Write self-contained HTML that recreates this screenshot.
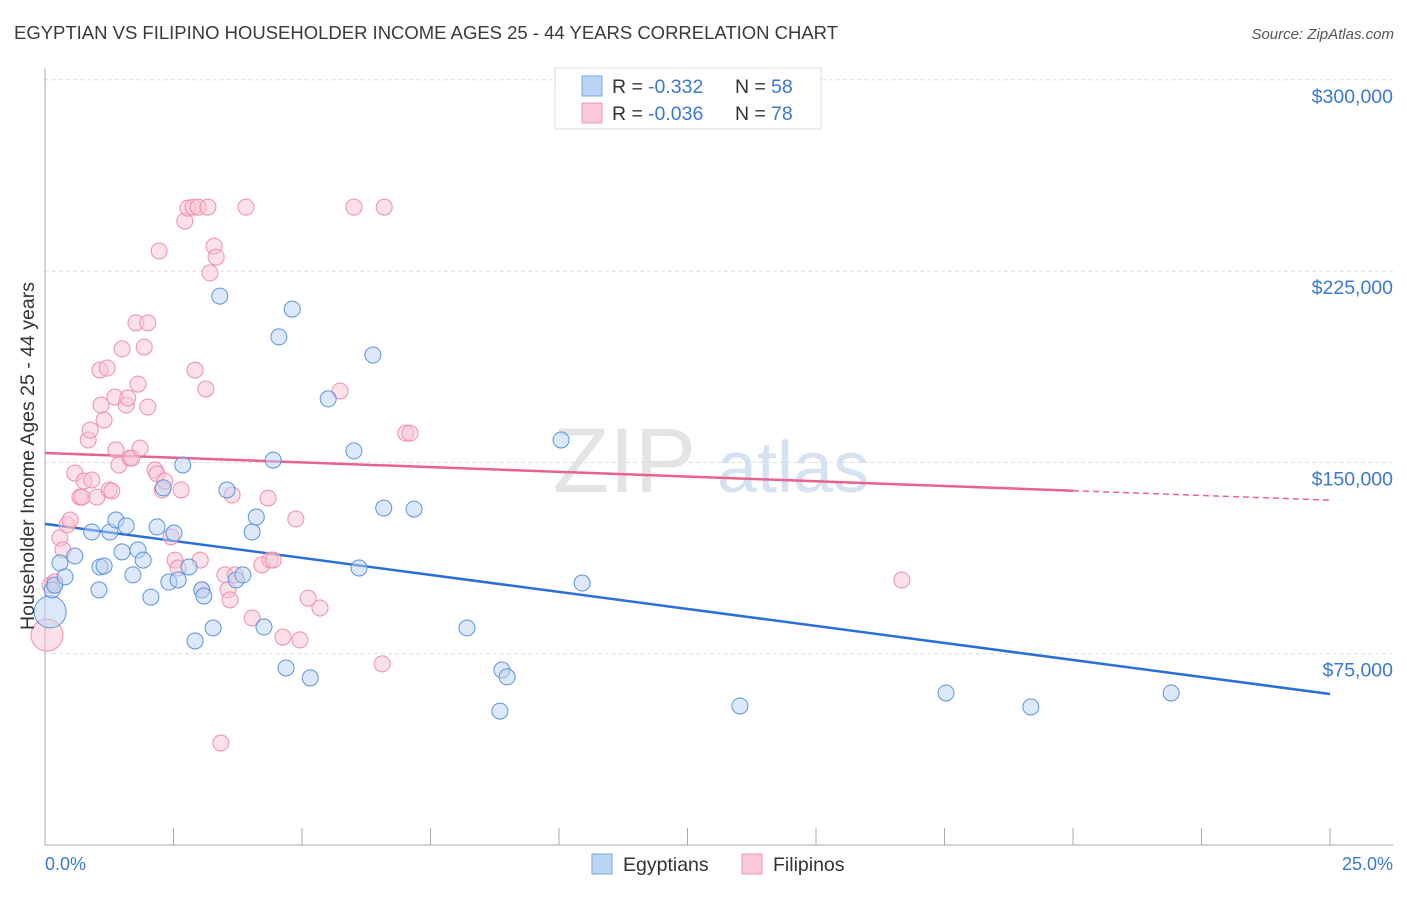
<!DOCTYPE html>
<html><head><meta charset="utf-8"><style>
body{margin:0;background:#fff;font-family:"Liberation Sans",sans-serif}
svg text{font-family:"Liberation Sans",sans-serif}
</style></head><body>
<svg id="chart" width="1406" height="892" xmlns="http://www.w3.org/2000/svg">
<text x="14" y="39" font-size="18.5" fill="#3a3a3a" textLength="824" lengthAdjust="spacingAndGlyphs">EGYPTIAN VS FILIPINO HOUSEHOLDER INCOME AGES 25 - 44 YEARS CORRELATION CHART</text>
<text x="1394" y="39" font-size="15" fill="#555" text-anchor="end" font-style="italic">Source: ZipAtlas.com</text>
<g>
<text x="553" y="492" font-size="92" fill="#e4e4e4" font-family="Liberation Serif,serif">ZIP</text>
<text x="717" y="492" font-size="72" fill="#d5e2f2">atlas</text>
</g>
<g id="grid"></g>
<g id="axes"></g>
<g id="trends"></g>
<g id="points"></g>
<text transform="translate(34,456) rotate(-90)" font-size="19.5" fill="#333" text-anchor="middle">Householder Income Ages 25 - 44 years</text>
<text x="45" y="870" font-size="18" fill="#3a78d4">0.0%</text>
<text x="1393" y="870" font-size="18" fill="#3a78d4" text-anchor="end">25.0%</text>
<g>
<rect x="555" y="68" width="266" height="61" fill="#fff" stroke="#ddd"/>
<rect x="582" y="76" width="20" height="20" fill="#bcd4f5" stroke="#7aa7e6"/>
<rect x="582" y="103" width="20" height="20" fill="#fbc8d6" stroke="#f09ab4"/>
<text x="612" y="93" font-size="19.5" fill="#333">R =</text>
<text x="648" y="93" font-size="19.5" fill="#3a78d4">-0.332</text>
<text x="735" y="93" font-size="19.5" fill="#333">N =</text>
<text x="771" y="93" font-size="19.5" fill="#3a78d4">58</text>
<text x="612" y="120" font-size="19.5" fill="#333">R =</text>
<text x="648" y="120" font-size="19.5" fill="#3a78d4">-0.036</text>
<text x="735" y="120" font-size="19.5" fill="#333">N =</text>
<text x="771" y="120" font-size="19.5" fill="#3a78d4">78</text>
</g>
<g>
<rect x="592" y="854" width="20" height="20" fill="#bcd4f5" stroke="#7aa7e6"/>
<text x="623" y="871" font-size="19.5" fill="#333">Egyptians</text>
<rect x="742" y="854" width="20" height="20" fill="#fbc8d6" stroke="#f09ab4"/>
<text x="773" y="871" font-size="19.5" fill="#333">Filipinos</text>
</g>
</svg>
<script>
const yTicks=[75000,150000,225000,300000];
const yTickLabels=["$75,000","$150,000","$225,000","$300,000"];
const egyX=[0.10,0.14,0.19,0.29,0.39,0.58,0.91,1.07,1.05,1.15,1.26,1.38,1.50,1.58,1.71,1.81,1.91,2.06,2.18,2.30,2.41,2.51,2.59,2.68,2.80,2.92,3.05,3.09,3.27,3.40,3.54,3.72,3.85,4.03,4.11,4.26,4.44,4.55,4.69,4.81,5.16,5.51,6.01,6.11,6.38,6.59,7.18,8.21,8.85,8.89,8.99,10.04,10.45,13.52,17.53,19.18,21.91];
const egyY=[91.4,100.0,101.9,110.6,105.1,113.3,122.7,109.0,100.0,109.4,122.7,127.4,114.9,125.1,105.9,115.7,111.7,97.2,124.7,140.0,103.1,122.3,103.9,149.0,109.0,80.0,100.0,97.6,85.1,215.2,139.2,103.9,105.9,122.7,128.6,85.5,150.9,199.2,69.4,210.1,65.5,174.9,154.5,108.6,192.1,132.1,131.7,85.1,52.5,68.6,65.9,158.8,102.7,54.5,59.6,54.1,59.6];
const filX=[0.04,0.10,0.19,0.29,0.35,0.43,0.49,0.58,0.68,0.72,0.76,0.84,0.88,0.91,1.01,1.07,1.09,1.15,1.21,1.25,1.30,1.36,1.38,1.44,1.50,1.58,1.61,1.65,1.69,1.77,1.81,1.85,1.93,2.00,2.00,2.14,2.18,2.22,2.28,2.33,2.45,2.53,2.59,2.65,2.72,2.78,2.88,2.92,2.98,3.02,3.05,3.13,3.17,3.21,3.29,3.33,3.42,3.50,3.56,3.60,3.64,3.70,3.91,4.03,4.22,4.34,4.38,4.44,4.63,4.88,4.96,5.12,5.35,5.74,6.01,6.56,6.60,7.02,7.10,16.67];
const filY=[82.3,101.9,103.1,120.4,115.7,125.5,127.4,145.8,136.4,136.4,142.7,158.8,162.7,143.1,136.4,186.2,172.5,166.6,187.0,139.2,138.8,175.6,154.9,149.0,194.5,172.5,175.3,151.7,151.7,204.7,180.7,155.6,195.2,204.7,171.7,147.0,145.5,232.9,139.2,142.7,120.8,111.7,108.6,139.2,244.6,249.7,250.1,186.2,250.1,111.7,100.0,178.8,250.1,224.3,234.8,230.5,40.0,105.9,100.0,96.1,137.2,105.9,250.1,89.0,109.8,136.0,111.7,111.7,81.5,127.8,80.4,96.8,92.9,178.0,250.1,71.0,250.1,161.5,161.5,103.9];
const egyTrend=[125.9,59.2];
const filTrend=[153.7,135.2];
const NS="http://www.w3.org/2000/svg";
const X=v=>45+v/25*1285;
const Y=k=>845-k*191.3/75;
function mk(tag,parent,attrs){const e=document.createElementNS(NS,tag);for(const k in attrs)e.setAttribute(k,attrs[k]);document.getElementById(parent).appendChild(e);return e;}
yTicks.forEach((t,i)=>{
 const l=mk('line','grid',{x1:45,x2:1393,y1:Y(t/1000),y2:Y(t/1000),stroke:'#ddd','stroke-dasharray':'4,3'});
 
 
 const tx=mk('text','grid',{x:1393,y:Y(t/1000)+23,'font-size':19.5,fill:'#3a78d4','text-anchor':'end'});
 tx.textContent=yTickLabels[i];
 
 
});
const ax=mk('line','axes',{x1:45,x2:45,y1:68,y2:845,stroke:'#aaa'});


const bx=mk('line','axes',{x1:45,x2:1393,y1:845,y2:845,stroke:'#aaa'});


for(let i=0;i<=10;i++){const t=mk('line','axes',{x1:X(i*2.5),x2:X(i*2.5),y1:828,y2:845,stroke:'#aaa'});
 
 }
function pts(xs,ys,fill,stroke,name){xs.forEach((x,i)=>{
 const r=(i===0)?16:8;
 const c=mk('circle','points',{cx:X(x),cy:Y(ys[i]),r:r,fill:fill,'fill-opacity':0.5,stroke:stroke,'stroke-width':1});
 
 
});}
pts(filX,filY,'#f9c3d2','#ee8fac','filipino-point');
pts(egyX,egyY,'#bcd4f5','#5b93df','egyptian-point');
const bt=mk('line','trends',{x1:X(0),y1:Y(egyTrend[0]),x2:X(25),y2:Y(egyTrend[1]),stroke:'#2a6fd8','stroke-width':2.5});


const p20=filTrend[0]+(filTrend[1]-filTrend[0])*0.8;
const pt=mk('line','trends',{x1:X(0),y1:Y(filTrend[0]),x2:X(20),y2:Y(p20),stroke:'#e8628f','stroke-width':2.5});


const pd=mk('line','trends',{x1:X(20),y1:Y(p20),x2:X(25),y2:Y(filTrend[1]),stroke:'#e8628f','stroke-width':1.5,'stroke-dasharray':'6,4'});


</script>
</body></html>
